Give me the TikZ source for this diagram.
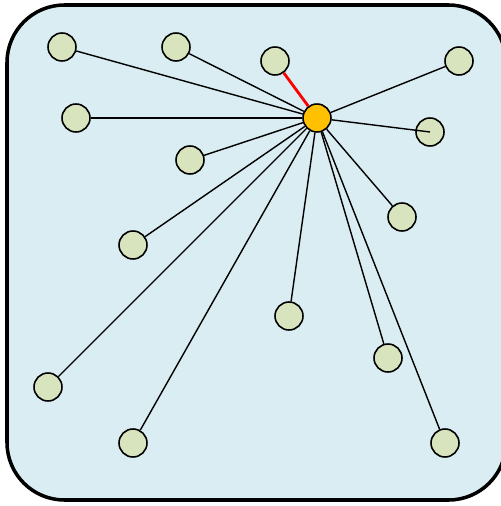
\documentclass[tikz,border=0pt]{standalone}
\usepackage{tikz}
\definecolor{panel}{HTML}{DAEDF3}
\definecolor{leafgreen}{HTML}{D7E4BD}
\definecolor{hubgold}{HTML}{FFC000}
\tikzset{
  leaf/.style={circle, draw=black, fill=leafgreen, line width=0.9pt, minimum size=0.56cm, inner sep=0pt},
  hub/.style={circle, draw=black, fill=hubgold, line width=0.9pt, minimum size=0.56cm, inner sep=0pt},
  link/.style={black, line width=0.8pt},
  hot/.style={red, line width=1.6pt},
}
\begin{document}
\begin{tikzpicture}[x=0.02cm,y=-0.02cm]
        \useasboundingbox (0,0) rectangle (500,506);
        \draw[fill=panel, line width=2pt, rounded corners=1.15cm] (7,5) rectangle (506,500);
        \node[hub] (h) at (317,118) {};
        \node[leaf] (n1) at (62,47) {};
        \node[leaf] (n2) at (176,47) {};
        \node[leaf] (n3) at (275,61) {};
        \node[leaf] (n4) at (459,61) {};
        \node[leaf] (n5) at (76,118) {};
        \node[leaf] (n6) at (430,132) {};
        \node[leaf] (n7) at (190,160) {};
        \node[leaf] (n8) at (402,217) {};
        \node[leaf] (n9) at (133,245) {};
        \node[leaf] (n10) at (289,316) {};
        \node[leaf] (n11) at (388,358) {};
        \node[leaf] (n12) at (48,387) {};
        \node[leaf] (n13) at (133,443) {};
        \node[leaf] (n14) at (445,443) {};
        \draw[hot] (h) -- (n3);
        \foreach \n in {1,2,4,5,7,8,9,10,11,12,13,14}
          \draw[link] (h) -- (n\n);
        \draw[link] (h) -- (n6.center);
      \end{tikzpicture}
\end{document}
